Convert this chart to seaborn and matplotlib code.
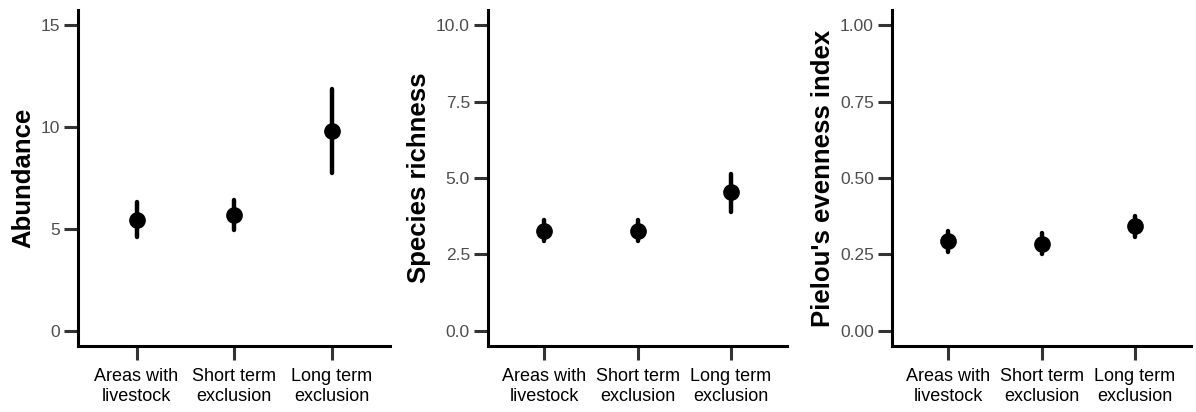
import pandas as pd
import numpy as np
import matplotlib
matplotlib.use("Agg")
import matplotlib.pyplot as plt
import seaborn as sns

sns.set_theme(style="ticks")
plt.rcParams['font.family'] = ['Liberation Sans', 'DejaVu Sans']

treatments = ["Areas with\nlivestock", "Short term\nexclusion", "Long term\nexclusion"]

abundance_mean = [5.45, 5.7, 9.8]
abundance_low = [4.6, 4.95, 7.75]
abundance_high = [6.3, 6.4, 11.85]

richness_mean = [3.28, 3.28, 4.53]
richness_low = [2.95, 2.95, 3.9]
richness_high = [3.63, 3.63, 5.12]

evenness_mean = [0.293, 0.284, 0.342]
evenness_low = [0.258, 0.25, 0.307]
evenness_high = [0.328, 0.32, 0.377]

panels = [
    ("Abundance", abundance_mean, abundance_low, abundance_high,
     [0, 5, 10, 15], ["0", "5", "10", "15"], (-0.75, 15.75)),
    ("Species richness", richness_mean, richness_low, richness_high,
     [0, 2.5, 5, 7.5, 10], ["0.0", "2.5", "5.0", "7.5", "10.0"], (-0.5, 10.5)),
    ("Pielou's evenness index", evenness_mean, evenness_low, evenness_high,
     [0, 0.25, 0.5, 0.75, 1.0], ["0.00", "0.25", "0.50", "0.75", "1.00"], (-0.05, 1.05)),
]

fig = plt.figure(figsize=(11.96, 4.12), dpi=100)
# axes boxes in pixels (left, right)
boxes = [(78, 390), (488, 787), (892, 1191)]
top, bottom = 10, 346

for (label, mean, low, high, ticks, ticklabels, ylim), (x0, x1) in zip(panels, boxes):
    ax = fig.add_axes([x0 / 1196, 1 - bottom / 412, (x1 - x0) / 1196, (bottom - top) / 412])
    # long form: low / mean / high per group -> median = mean, 100% interval = low..high
    rows = []
    for t, m, lo, hi in zip(treatments, mean, low, high):
        for v in (lo, m, hi):
            rows.append({"Treatment": t, "Value": v})
    df = pd.DataFrame(rows)
    sns.pointplot(data=df, x="Treatment", y="Value", order=treatments,
                  estimator="median", errorbar=("pi", 100),
                  color="black", linestyle="none", marker="o",
                  markersize=10, err_kws={"linewidth": 3.2}, ax=ax)
    ax.set_xlim(-0.6, 2.6)
    ax.set_ylim(*ylim)
    ax.set_yticks(ticks)
    ax.set_yticklabels(ticklabels)
    ax.set_xlabel("")
    ax.set_ylabel(label, fontsize=18.5, fontweight="bold", color="black", labelpad=4)
    sns.despine(ax=ax)
    for s in ("left", "bottom"):
        ax.spines[s].set_linewidth(2.2)
        ax.spines[s].set_color("black")
    ax.tick_params(axis="both", length=10, width=2.2, color="#333333")
    ax.tick_params(axis="y", labelsize=12.5, labelcolor="#4d4d4d", pad=3)
    ax.tick_params(axis="x", labelsize=13, labelcolor="black", pad=6)
    for t in ax.get_xticklabels():
        t.set_linespacing(1.25)

fig.savefig("out.png", dpi=100)
